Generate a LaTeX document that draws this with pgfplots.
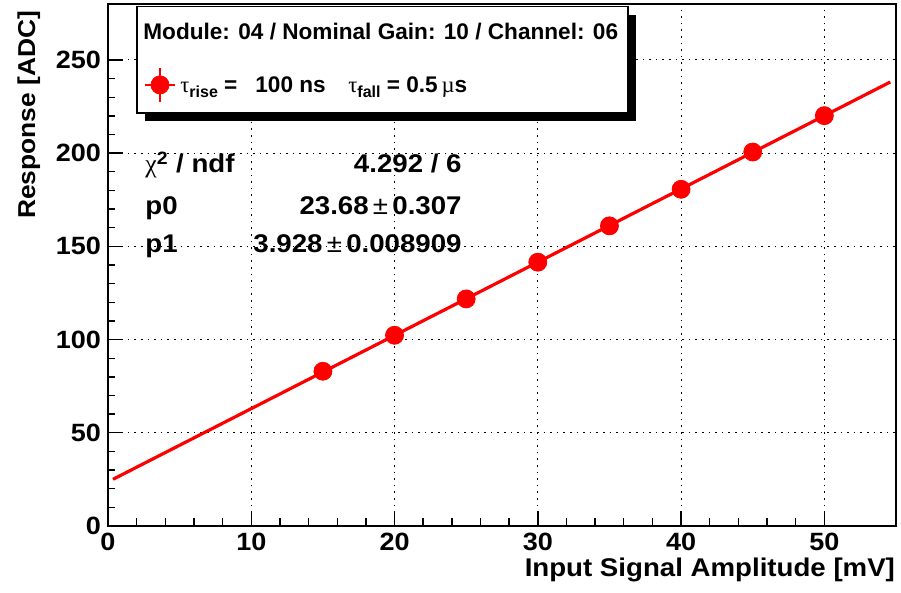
\documentclass[border=0pt]{standalone}
\usepackage{fontspec}
\setmainfont{Liberation Sans}[FakeStretch=1.08]
\newfontfamily\hdrfont{Liberation Sans}[FakeStretch=1.0]
\newfontfamily\symb{Liberation Serif}
\usepackage{pgfplots}
\pgfplotsset{compat=1.18}

\begin{document}
\begin{tikzpicture}
\useasboundingbox (-54pt,-33.5pt) rectangle (396.5pt,263pt);
\begin{axis}[
  at={(0,0)}, anchor=south west,
  scale only axis, width=394pt, height=261pt,
  xmin=0, xmax=55, ymin=0, ymax=280,
  xtick={0,10,...,50}, ytick={0,50,...,250},
  minor x tick num=4, minor y tick num=4,
  tick pos=left, tick align=inside,
  major tick length=7.5pt, minor tick length=3.75pt,
  grid=major,
  major grid style={black, line width=0.5pt, dash pattern=on 0.8pt off 2.5pt},
  axis line style={line width=0.9pt},
  tick style={black, line width=0.7pt},
  /pgf/number format/assume math mode=true,
  ticklabel style={font=\fontsize{12.5}{13}\selectfont\bfseries},
  xlabel={Input Signal Amplitude [mV]},
  ylabel={Response [ADC]},
  label style={font=\fontsize{12.8}{14}\selectfont\bfseries},
  xlabel style={at={(axis description cs:1,0)}, anchor=base east, yshift=-25.5pt, xshift=3pt},
  ylabel style={at={(axis description cs:-0.0926,1)}, anchor=base east, font=\fontsize{12.2}{14}\selectfont\bfseries},
  legend style={draw=none, fill=none, inner sep=0pt, nodes={inner sep=0pt},
    at={(axis description cs:0.0457,0.845)}, anchor=west},
  legend image code/.code={
    \draw[red, line width=0.6pt] (0pt,0pt) -- (15pt,0pt) (7.5pt,-8.5pt) -- (7.5pt,8.5pt);
    \fill[red] (7.5pt,0pt) circle (4.5pt);
  },
  clip=false,
]
% legend frame with its shadow
\fill[black] ([xshift=4pt,yshift=-4pt]axis description cs:0.0368,0.995) rectangle ([xshift=4pt,yshift=-4pt]axis description cs:0.66,0.791);
\draw[fill=white, line width=0.6pt] (axis description cs:0.0368,0.995) rectangle (axis description cs:0.66,0.791);

% fit: p0 + p1*x
\addplot[red, line width=1.6pt, forget plot] coordinates {(0.35,25.05) (54.6,238.15)};

\addplot[only marks, mark=*, mark size=4.5pt, red, mark options={fill=red, draw=red}] coordinates {
  (15,83.0) (20,102.3) (25,121.8) (30,141.5) (35,161.0) (40,180.6) (45,200.6) (50,220.1)
};
\addlegendentry{}
\end{axis}

\begin{scope}[x=0.5pt, y=-0.5pt, shift={(-54pt,263pt)}]
  \node[anchor=base west, inner sep=0pt, font=\hdrfont\fontsize{11.3}{12}\selectfont\bfseries] at (143,40) {Module: 04 / Nominal Gain: 10 / Channel: 06};
  \begin{scope}[every node/.style={anchor=base west, inner sep=0pt, font=\hdrfont\fontsize{11.3}{12}\selectfont\bfseries}]
    \node at (180,93) {{\symb\mdseries τ}\raisebox{-2.5pt}{\fontsize{8}{9}\selectfont rise} =};
    \node at (255,93) {100 ns};
    \node at (348,93) {{\symb\mdseries τ}\raisebox{-2.5pt}{\fontsize{8}{9}\selectfont fall} = 0.5\,{\symb\mdseries µ}s};
  \end{scope}
  \begin{scope}[every node/.style={inner sep=0pt, font=\fontsize{12.8}{14}\selectfont\bfseries}]
    \node[anchor=base west] at (145,173) {{\symb\mdseries χ}\textsuperscript{2} / ndf};
    \node[anchor=base east] at (462,173) {4.292 / 6};
    \node[anchor=base west] at (145,215) {p0};
    \node[anchor=base east] at (462,215) {23.68\,{\mdseries ±}\,0.307};
    \node[anchor=base west] at (145,253) {p1};
    \node[anchor=base east] at (462,253) {3.928\,{\mdseries ±}\,0.008909};
  \end{scope}
\end{scope}
\end{tikzpicture}
\end{document}
